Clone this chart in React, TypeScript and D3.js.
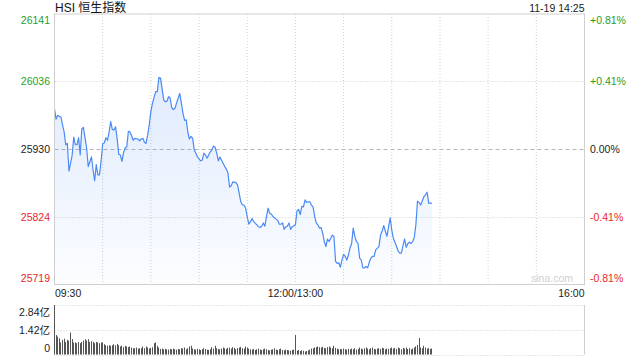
import React from "react";
import * as d3 from "d3";

const title = "HSI 恒生指数";
const stamp = "11-19 14:25";
const yTicks = [26141, 26036, 25930, 25824, 25719];
const prevClose = 25930;
const pctLabels = ["+0.81%", "+0.41%", "0.00%", "-0.41%", "-0.81%"];
const timeLabels = ["09:30", "12:00/13:00", "16:00"];
const volTicks = [2.84, 1.42, 0];
const volLabels = ["2.84亿", "1.42亿", "0"];

// trading-minute index (0 = 09:30, 150 = 12:00/13:00, 330 = 16:00)
const priceMinutes = [
  0, 1, 2, 4, 5, 6, 7, 8, 9, 11, 12, 13, 14, 15, 16, 17, 18, 20, 21, 23, 24, 25, 26, 27, 28, 29,
  30, 31, 32, 33, 34, 35, 36, 37, 38, 39, 40, 41, 42, 43, 44, 45, 46, 47, 48, 49, 50, 52, 53, 54,
  55, 56, 57, 58, 59, 60, 61, 63, 64, 65, 66, 67, 68, 69, 70, 71, 72, 73, 74, 75, 76, 77, 78, 79,
  80, 81, 82, 83, 84, 85, 86, 87, 88, 89, 91, 92, 93, 94, 95, 96, 97, 98, 99, 100, 101, 102, 103,
  104, 105, 106, 107, 108, 109, 110, 111, 113, 114, 115, 116, 117, 118, 119, 120, 121, 122, 123,
  124, 126, 127, 128, 129, 130, 131, 132, 133, 134, 135, 136, 138, 139, 140, 141, 142, 143, 144,
  145, 146, 147, 148, 150, 151, 152, 153, 154, 155, 156, 157, 158, 159, 160, 161, 162, 163, 164,
  165, 166, 167, 168, 169, 170, 171, 172, 173, 174, 175, 176, 177, 178, 179, 180, 181, 182, 183,
  184, 185, 186, 187, 188, 189, 190, 191, 192, 193, 194, 195, 196, 197, 198, 199, 200, 202, 203,
  204, 205, 206, 207, 208, 209, 210, 211, 212, 213, 214, 215, 216, 217, 218, 219, 220, 221, 222,
  223, 224, 225, 226, 227, 228, 230, 231, 232, 233, 234, 235,
];
const priceValues = [
  25993, 25977, 25983, 25980, 25968, 25957, 25937, 25939, 25896, 25921, 25949, 25937, 25937, 25948,
  25921, 25962, 25964, 25932, 25903, 25918, 25898, 25881, 25906, 25890, 25890, 25911,
  25939, 25940, 25948, 25944, 25957, 25973, 25961, 25960, 25965, 25947, 25922, 25921, 25911, 25925,
  25932, 25934, 25958, 25957, 25951, 25944, 25947, 25946, 25943, 25946,
  25947, 25941, 25939, 25952, 25968, 25989, 26002, 26020, 26020, 26042, 26041, 26025, 26007, 26004,
  26005, 26012, 26010, 25995, 25992, 25994, 26002, 26010, 26017, 26002,
  25986, 25975, 25976, 25957, 25946, 25950, 25947, 25929, 25924, 25918, 25912, 25913, 25924, 25921,
  25916, 25921, 25926, 25929, 25935, 25933, 25924, 25912, 25918,
  25913, 25908, 25903, 25899, 25893, 25871, 25873, 25879, 25878, 25874, 25861, 25848, 25843, 25843,
  25838, 25825, 25813, 25817, 25822,
  25817, 25812, 25809, 25808, 25810, 25815, 25810, 25825, 25838, 25830, 25829, 25825, 25821, 25819,
  25813, 25813, 25815, 25805, 25809,
  25810, 25815, 25805, 25809, 25812, 25834, 25836, 25828, 25841, 25840, 25851, 25847, 25848, 25848,
  25843, 25840, 25825, 25815, 25812,
  25807, 25808, 25799, 25786, 25778, 25790, 25786, 25791, 25796, 25794, 25755, 25752, 25753, 25746,
  25757, 25766, 25763, 25757, 25765,
  25776, 25783, 25807, 25794, 25786, 25783, 25760, 25757, 25745, 25745, 25747, 25745, 25754, 25760,
  25763, 25763, 25773, 25778, 25796,
  25802, 25811, 25802, 25794, 25809, 25823, 25804, 25791, 25785, 25778, 25771, 25768, 25768, 25780,
  25790, 25777, 25783, 25785, 25783,
  25786, 25792, 25812, 25849, 25847, 25843, 25856, 25859, 25863, 25846, 25846, 25846,
];

// volume (亿) per trading minute, index = minute
const volumes = [
  2.84, 1.12, 1.03, 0.93, 0.69, 0.84, 0.91, 0.72, 0.84, 0.8,
  1.26, 0.88, 0.69, 0.69, 0.65, 0.72, 0.65, 0.72, 0.8, 0.88,
  0.8, 0.88, 0.72, 0.76, 0.72, 0.65, 0.72, 0.69, 0.65, 0.69,
  0.69, 0.59, 0.53, 0.5, 0.53, 0.5, 0.53, 0.59, 0.53, 0.61,
  0.53, 0.46, 0.5, 0.42, 0.5, 0.46, 0.42, 0.46, 0.4, 0.36,
  0.36, 0.4, 0.34, 0.36, 0.36, 0.46, 0.36, 0.46, 0.4, 0.34,
  0.38, 0.42, 0.65, 0.69, 0.5, 0.4, 0.32, 0.34, 0.3, 0.32,
  0.3, 0.28, 0.32, 0.3, 0.34, 0.3, 0.28, 0.32, 0.3, 0.36,
  0.34, 0.4, 0.3, 0.36, 0.46, 0.5, 0.34, 0.3, 0.28, 0.32,
  0.3, 0.26, 0.3, 0.36, 0.32, 0.28, 0.26, 0.3, 0.42, 0.34,
  0.5, 0.36, 0.32, 0.3, 0.34, 0.4, 0.36, 0.32, 0.38, 0.4,
  0.34, 0.42, 0.38, 0.3, 0.36, 0.4, 0.44, 0.36, 0.34, 0.46,
  0.4, 0.34, 0.3, 0.28, 0.32, 0.26, 0.3, 0.34, 0.28, 0.26,
  0.3, 0.34, 0.3, 0.26, 0.24, 0.28, 0.3, 0.36, 0.28, 0.26,
  0.3, 0.34, 0.26, 0.24, 0.28, 0.26, 0.24, 0.22, 0.26, 0.28,
  1.12,
  0.22, 0.26, 0.2, 0.24, 0.22, 0.17, 0.2, 0.23, 0.28, 0.34,
  0.36, 0.4, 0.42, 0.46, 0.42, 0.4, 0.44, 0.38, 0.36, 0.42,
  0.46, 0.4, 0.36, 0.5, 0.38, 0.34, 0.3, 0.32, 0.3, 0.34,
  0.3, 0.28, 0.32, 0.3, 0.34, 0.3, 0.36, 0.28, 0.32, 0.4,
  0.34, 0.3, 0.36, 0.4, 0.34, 0.3, 0.36, 0.4, 0.32, 0.3,
  0.34, 0.36, 0.32, 0.38, 0.36, 0.3, 0.34, 0.32, 0.36, 0.4,
  0.34, 0.38, 0.32, 0.4, 0.36, 0.3, 0.38, 0.34, 0.4, 0.32,
  0.36, 0.3, 0.34, 0.4, 0.46, 0.55, 0.95, 0.4, 0.36, 0.5,
  0.4, 0.34, 0.36, 0.32, 0.34,
];

const GREEN = "#1fa01f";
const RED = "#e8262b";
const GRID = "#cfcfcf";
const FONT = "'Liberation Sans', Arial, 'Noto Sans CJK SC', sans-serif";

export default function App() {
  const L = 54.5, R = 584.5, T = 14, B = 284.5;
  const VT = 305, VB = 354.5;
  const x = d3.scaleLinear().domain([0, 330]).range([L, R]);
  const y = d3.scaleLinear().domain([yTicks[4], yTicks[0]]).range([B, T]);
  const vy = d3.scaleLinear().domain([0, 2.84]).range([VB, VT]);

  const pts = priceMinutes.map((m, i) => [m, priceValues[i]] as [number, number]);
  const line = d3.line<[number, number]>().x((d) => x(d[0])).y((d) => y(d[1]));
  const area = d3
    .area<[number, number]>()
    .x((d) => x(d[0]))
    .y0(B)
    .y1((d) => y(d[1]));

  const vGrid = d3.range(30, 330, 30);
  const colorFor = (v: number) => (v > prevClose ? GREEN : v < prevClose ? RED : "#222");

  const labelY = (i: number, gy: number) => (i === 0 ? T + 10 : i === yTicks.length - 1 ? B - 3 : gy + 3.8);
  const vLabelY = (i: number, gy: number) => (i === 0 ? VT + 10.5 : i === volTicks.length - 1 ? VB - 2.5 : gy + 3.8);

  return (
    <svg
      width={640}
      height={360}
      style={{ position: "absolute", left: 0, top: 0, background: "#fff" }}
      fontFamily={FONT}
    >
      <defs>
        <linearGradient id="fillg" gradientUnits="userSpaceOnUse" x1="0" y1={T} x2="0" y2={B}>
          <stop offset="0" stopColor="#4a8af4" stopOpacity={0.22} />
          <stop offset="1" stopColor="#4a8af4" stopOpacity={0.02} />
        </linearGradient>
      </defs>

      {/* header */}
      <text x={55} y={12} fontSize={12} fill="#111">{title}</text>
      <text x={R} y={11.5} fontSize={10.5} fill="#222" textAnchor="end">{stamp}</text>

      {/* price grid */}
      {vGrid.map((m) => (
        <line key={m} x1={x(m)} x2={x(m)} y1={T} y2={B} stroke={GRID} strokeDasharray="1,2" />
      ))}
      {yTicks.slice(1, -1).map((v) => (
        <line
          key={v}
          x1={L}
          x2={R}
          y1={Math.round(y(v)) + 0.5}
          y2={Math.round(y(v)) + 0.5}
          stroke={v === prevClose ? "#b5b5b5" : GRID}
          strokeDasharray={v === prevClose ? "4,3" : "1,2"}
        />
      ))}

      {/* area + line */}
      <path d={area(pts) || ""} fill="url(#fillg)" />
      <path d={line(pts) || ""} fill="none" stroke="#4a8af4" strokeWidth={1.2} strokeLinejoin="round" />

      {/* price frame */}
      <rect x={L} y={T} width={R - L} height={B - T} fill="none" stroke={GRID} />

      {/* watermark */}
      <text x={573} y={282} fontSize={10.5} fill="#d0d0d0" textAnchor="end">sina.com</text>

      {/* y labels */}
      {yTicks.map((v, i) => (
        <text key={v} x={50} y={labelY(i, y(v))} fontSize={10.5} fill={colorFor(v)} textAnchor="end">
          {v}
        </text>
      ))}
      {yTicks.map((v, i) => (
        <text key={"p" + v} x={590} y={labelY(i, y(v))} fontSize={10.5} fill={colorFor(v)}>
          {pctLabels[i]}
        </text>
      ))}

      {/* time labels */}
      <text x={55} y={296.5} fontSize={10.5} fill="#222">{timeLabels[0]}</text>
      <text x={x(150)} y={296.5} fontSize={10.5} fill="#222" textAnchor="middle">{timeLabels[1]}</text>
      <text x={R} y={296.5} fontSize={10.5} fill="#222" textAnchor="end">{timeLabels[2]}</text>

      {/* volume panel */}
      {volTicks.map((v) => (
        <line
          key={"vg" + v}
          x1={L}
          x2={R}
          y1={Math.round(vy(v)) + 0.5}
          y2={Math.round(vy(v)) + 0.5}
          stroke={GRID}
          strokeDasharray="1,2"
        />
      ))}
      <line x1={L} x2={L} y1={VT} y2={VB} stroke={GRID} />
      <line x1={R} x2={R} y1={VT} y2={VB} stroke={GRID} />
      {volumes.map((v, i) => (
        <rect
          key={"b" + i}
          x={Math.floor(x(i))}
          y={vy(v)}
          width={1}
          height={VB - vy(v)}
          fill="#555"
        />
      ))}
      {volTicks.map((v, i) => (
        <text key={"vl" + v} x={50} y={vLabelY(i, vy(v))} fontSize={10.5} fill="#222" textAnchor="end">
          {volLabels[i]}
        </text>
      ))}
    </svg>
  );
}
